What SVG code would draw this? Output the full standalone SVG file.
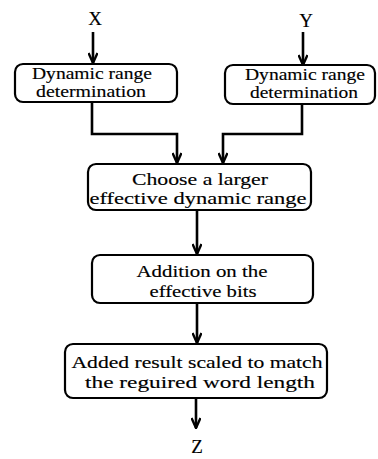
<svg xmlns="http://www.w3.org/2000/svg" width="378" height="459" viewBox="0 0 378 459">
<style>
.box{fill:#fff;stroke:#000;stroke-width:2.2}
.t{font-family:"Liberation Serif","Times New Roman",serif;font-size:17px;fill:#000;stroke:#000;stroke-width:0.15;text-anchor:middle}
.l{font-size:19px}
.c{fill:none;stroke:#000;stroke-width:2.6}
</style>
<defs>
<marker id="ah" viewBox="0 0 12 10" refX="11" refY="5" markerWidth="12" markerHeight="10" markerUnits="userSpaceOnUse" orient="auto">
<path d="M1,0.5 L11,5 L1,9.5" fill="none" stroke="#000" stroke-width="2.4"/>
</marker>
</defs>
<rect width="378" height="459" fill="#fff"/>
<g id="connectors">
<line class="c" x1="93" y1="32" x2="93" y2="63" marker-end="url(#ah)"/>
<line class="c" x1="303" y1="32" x2="303" y2="65" marker-end="url(#ah)"/>
<polyline class="c" points="92,102 92,134 177,134 177,163" marker-end="url(#ah)"/>
<polyline class="c" points="302,104 302,134 223,134 223,163" marker-end="url(#ah)"/>
<line class="c" x1="197" y1="210" x2="197" y2="254" marker-end="url(#ah)"/>
<line class="c" x1="197" y1="303" x2="197" y2="343" marker-end="url(#ah)"/>
<line class="c" x1="196" y1="398" x2="196" y2="428" marker-end="url(#ah)"/>
</g>
<g id="X"><text class="t l" x="95" y="25">X</text></g>
<g id="Y"><text class="t l" x="306" y="27">Y</text></g>
<g id="dr1">
<rect class="box" x="15" y="64" width="162" height="38" rx="8"/>
<text class="t" x="92" y="79" textLength="120" lengthAdjust="spacingAndGlyphs">Dynamic range</text>
<text class="t" x="91" y="97" textLength="110" lengthAdjust="spacingAndGlyphs">determination</text>
</g>
<g id="dr2">
<rect class="box" x="225" y="65" width="150" height="39" rx="8"/>
<text class="t" x="305" y="80" textLength="120" lengthAdjust="spacingAndGlyphs">Dynamic range</text>
<text class="t" x="304" y="98" textLength="108" lengthAdjust="spacingAndGlyphs">determination</text>
</g>
<g id="choose">
<rect class="box" x="88" y="164" width="223" height="46" rx="8"/>
<text class="t" x="200" y="185" textLength="136" lengthAdjust="spacingAndGlyphs">Choose a larger</text>
<text class="t" x="198" y="204" textLength="217" lengthAdjust="spacingAndGlyphs">effective dynamic range</text>
</g>
<g id="addition">
<rect class="box" x="92" y="255" width="221" height="48" rx="8"/>
<text class="t" x="202" y="277" textLength="131" lengthAdjust="spacingAndGlyphs">Addition on the</text>
<text class="t" x="203" y="297" textLength="107" lengthAdjust="spacingAndGlyphs">effective bits</text>
</g>
<g id="scaled">
<rect class="box" x="65" y="344" width="262" height="54" rx="8"/>
<text class="t" x="197" y="368" textLength="251" lengthAdjust="spacingAndGlyphs">Added result scaled to match</text>
<text class="t" x="200" y="388" textLength="230" lengthAdjust="spacingAndGlyphs">the reguired word length</text>
</g>
<g id="Z"><text class="t l" x="197" y="453">Z</text></g>
</svg>
